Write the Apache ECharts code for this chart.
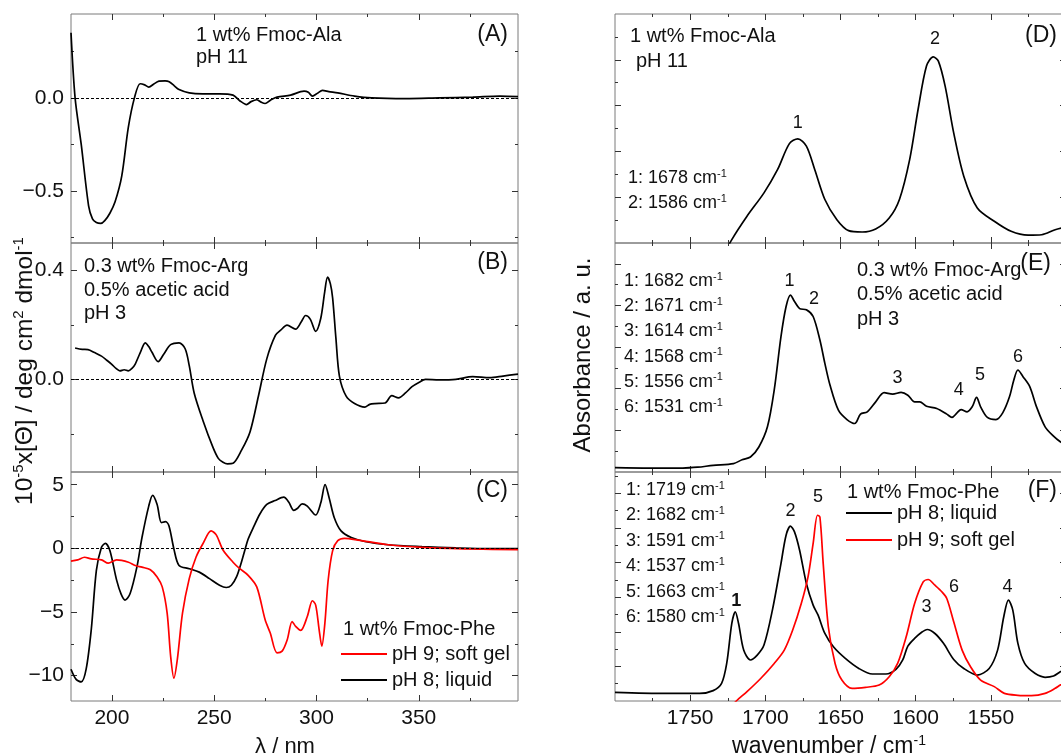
<!DOCTYPE html>
<html>
<head>
<meta charset="utf-8">
<script src="https://cdn.jsdelivr.net/npm/echarts@6/dist/echarts.min.js"></script>
<style>
  html, body { margin: 0; padding: 0; background: #fff; }
  #chart { width: 1061px; height: 756px; }
</style>
</head>
<body>
<div id="chart"></div>
<script>
// ---- data ----
// CD spectra (x: nm)
var alaCd = [[180,0.35],[182,0.0],[185,-0.25],[188.6,-0.58],[190.5,-0.65],[192.4,-0.67],[194.5,-0.675],[196.5,-0.66],[199,-0.62],[201.5,-0.56],[204.8,-0.42],[208,-0.16],[211,0],[213.8,0.076],[216,0.07],[218,0.058],[220.5,0.075],[223,0.09],[226,0.092],[228,0.087],[230.5,0.065],[232.8,0.045],[237.8,0.027],[244.4,0.022],[252.6,0.022],[259.2,0.015],[262.5,-0.015],[265.8,-0.036],[268,-0.02],[270.8,-0.01],[272.5,-0.02],[274.9,-0.03],[277.5,-0.012],[280.7,0.004],[287.3,0.015],[293.9,0.036],[296,0.03],[298,0.01],[300.5,0.025],[302.9,0.04],[306,0.034],[310.4,0.027],[318.6,0.01],[326.9,0],[343.4,-0.004],[360,0],[376.4,0.004],[389.6,0.01],[398.5,0.007]];
var argCd = [[182,0.115],[185.5,0.11],[188.3,0.109],[191.5,0.098],[194.9,0.085],[197.5,0.07],[199.8,0.056],[202,0.04],[203.9,0.031],[206,0.035],[208,0.031],[209.8,0.04],[211.4,0.056],[213.8,0.097],[216.3,0.134],[218,0.12],[219.6,0.099],[222.6,0.065],[225.4,0.093],[228.7,0.127],[232.8,0.134],[235.8,0.112],[237.8,0.05],[240.2,-0.05],[244.4,-0.149],[249.3,-0.248],[252,-0.29],[254.3,-0.304],[256.5,-0.31],[259.2,-0.308],[263.3,-0.261],[267.5,-0.193],[271.6,-0.062],[275.7,0.075],[279.9,0.161],[282.5,0.18],[285.6,0.199],[289.8,0.184],[292.5,0.21],[294.7,0.234],[297,0.22],[299.6,0.176],[302.1,0.224],[304,0.32],[305.4,0.375],[306.8,0.35],[307.9,0.298],[309.5,0.15],[311.2,0.012],[314.5,-0.062],[318.6,-0.089],[323.6,-0.102],[326,-0.092],[328.5,-0.089],[333.5,-0.087],[336.8,-0.06],[340.1,-0.068],[343.5,-0.05],[346.7,-0.027],[350,-0.012],[353.3,0],[359.9,-0.002],[368.1,0],[376.4,0.01],[384.6,0.006],[391.2,0.012],[398.5,0.019]];
var pheCdLiquid = [[180,-9.5],[182.5,-10.3],[185,-10.5],[187.4,-9.5],[189.9,-6.4],[192.4,-1.74],[194.9,0.08],[196.8,0.39],[199,-0.18],[202.3,-2.5],[204.5,-3.6],[206.4,-4.07],[208.9,-3.55],[212.2,-1.48],[214.7,0.85],[218,3.32],[219.9,4.17],[222.1,3.45],[224.2,2.02],[226.2,2.1],[227.9,1.76],[230.3,-0.05],[232.8,-1.35],[237.8,-1.6],[242.7,-1.87],[247.7,-2.38],[252.6,-2.9],[255.9,-3.08],[258.4,-2.9],[260.9,-2.25],[263.3,-1.09],[265,-0.13],[266.6,0.73],[269.1,1.63],[272.4,2.72],[275.7,3.45],[279.8,3.76],[284,4.02],[286.4,3.65],[288.9,2.98],[290.6,3.13],[293,3.5],[295.5,3.32],[299.6,2.62],[302.1,3.58],[304.2,5.0],[306.2,3.96],[308.7,2.41],[312,1.37],[317,0.85],[323.6,0.54],[335.1,0.28],[351.6,0.13],[368.1,0.03],[384.6,-0.03],[398.5,-0.03]];
var pheCdGel = [[180,-1.01],[183.3,-0.91],[186.6,-0.7],[189.9,-0.83],[194.9,-0.91],[198.2,-1.17],[202.3,-0.91],[208.1,-1.09],[211.4,-1.35],[214.7,-1.48],[218.8,-1.68],[222.1,-2.25],[224.6,-3.03],[227,-5.1],[228.7,-8.47],[230.3,-10.2],[232,-8.7],[234.5,-5.1],[237.8,-2.38],[241.1,-0.7],[244.4,0.34],[248.5,1.37],[251,1.06],[254.3,-0.13],[259.2,-1.09],[262.5,-1.6],[266.6,-2.12],[270.8,-3.03],[274.9,-5.62],[277.4,-6.66],[280.7,-8.21],[283.2,-8.08],[285.7,-7.18],[288.1,-5.75],[289.8,-6.14],[292.3,-6.45],[295.5,-5.36],[298,-4.12],[299.6,-4.46],[301.3,-6.4],[302.6,-7.69],[304.1,-5.88],[305.7,-2.51],[307.9,-0.18],[310.4,0.6],[313.7,0.78],[320.3,0.65],[335.1,0.28],[351.6,0.08],[376.4,-0.05],[398.5,-0.1]];

// IR spectra (x: wavenumber / cm-1, y: a.u.)
var alaIr = [[1730,-8],[1722.3,1.5],[1712.2,11.7],[1700.9,21.9],[1691.9,32],[1684,43.4],[1678.4,45.5],[1672.7,42.3],[1667.1,32],[1660.4,19],[1652.4,10.2],[1644.6,5.4],[1635.6,4.8],[1626.6,6.1],[1617.6,10.9],[1610.8,19],[1604,36.4],[1598.4,58.3],[1592.8,77.3],[1588.3,81.3],[1584.9,79.4],[1580.4,68.5],[1574.7,48.1],[1568,29.2],[1559,15.3],[1547.7,9.5],[1536.5,5.1],[1525.2,3.4],[1516.2,3.6],[1507.2,5.8],[1500,7]];
var argIr = [[1800,2.1],[1777.4,1.9],[1754.9,1.9],[1745,2.3],[1734.7,3.2],[1721.2,4.0],[1715.5,5.9],[1709.9,7.2],[1704.3,12],[1698.6,21.7],[1694.1,39.3],[1689.6,65],[1686.2,79.5],[1683.3,85],[1680.6,81.9],[1677.2,78.5],[1672.7,77.9],[1668.2,74.7],[1663.7,63.4],[1660.4,52.2],[1657,41.8],[1651.4,29.7],[1645.7,25.2],[1640.5,23.3],[1636.7,27.8],[1632.2,28.9],[1626.6,33.7],[1621,38.1],[1615.3,37.4],[1609.7,38.2],[1605.2,36.9],[1600.7,33.7],[1597.3,33.7],[1592.8,31.6],[1586,30.5],[1579.3,27.8],[1575.9,26.2],[1572.5,28.4],[1569.8,30],[1565.8,28.9],[1562.4,31.3],[1559.5,35.8],[1556.8,31.3],[1552.3,26.2],[1546.6,25.2],[1542.1,28.4],[1537.6,36.1],[1534.7,44.2],[1532,49],[1528.6,45.8],[1524.1,41],[1519.6,31.3],[1513.9,21.7],[1508.3,17.2],[1503.8,14.5],[1500,13]];
var pheIrLiquid = [[1800,5],[1766.2,4.4],[1743.7,4.4],[1734.7,6],[1729.1,10.2],[1725.7,21.7],[1722.3,44.8],[1720,51.5],[1717.8,44.8],[1714.4,29.4],[1709.9,23.7],[1705.4,26.5],[1700.9,32.3],[1695.3,52.5],[1689.6,79.4],[1686.2,95.8],[1683.3,101],[1680.6,97.7],[1677.2,87.1],[1672.7,67.9],[1668.2,55.4],[1664.9,49.6],[1660.4,39],[1654.7,31.3],[1646.8,24.6],[1637.8,18.8],[1628.8,15.6],[1619.8,15.6],[1613.1,18.3],[1608.6,23.7],[1605.2,31.7],[1600.7,36.2],[1596.2,39.6],[1592.3,41.3],[1587.2,39],[1581.5,33.3],[1574.7,24],[1568,18.8],[1559,15],[1551.1,18.8],[1545.5,29.4],[1541.4,48.7],[1538.3,58.3],[1535.4,52.5],[1532,33.3],[1527.5,21.7],[1520.7,16],[1513.9,13.7],[1508.3,14.4],[1503.8,16.9],[1500,18.5]];
var pheIrGel = [[1728,-8],[1719.3,0],[1712.2,5.4],[1703.1,13],[1694.1,21.7],[1687.4,29.4],[1681.8,41],[1676.1,56.3],[1671.6,71.7],[1668.2,91],[1665.3,107.3],[1663.7,106.3],[1661.5,79.4],[1658.1,42.9],[1653.6,21.7],[1649.1,12.1],[1642.3,7.3],[1633.3,7.9],[1624.3,9.2],[1617.6,14],[1612,21.7],[1606.3,37.1],[1600.7,56.3],[1595,68.8],[1591.7,70.2],[1587.2,66.9],[1582.6,63.1],[1579.3,59.2],[1574.7,45.8],[1569.1,29.4],[1563.5,19.8],[1556.8,12.1],[1547.7,8.3],[1541,4.4],[1532,3.3],[1523,3.1],[1513.9,4.4],[1507.2,7.3],[1503.8,9.2],[1500,11]];

// peak numbers, placed at data coordinates
var alaPeaks = [[1678.4,52.5,'1'],[1587.2,89.2,'2']];
var argPeaks = [[1684,91.5,'1'],[1667.6,83,'2'],[1612,45,'3'],[1571.4,39.3,'4'],[1557.2,46.6,'5'],[1532,55.4,'6']];
var phePeaks = [[1719.3,57.5,'1'],[1683.3,110,'2'],[1664.9,117.9,'5'],[1592.8,54,'3'],[1574.5,66,'6'],[1538.9,65.6,'4']];

// peak position lists
var alaPeakList = ['1: 1678', '2: 1586'];
var argPeakList = ['1: 1682', '2: 1671', '3: 1614', '4: 1568', '5: 1556', '6: 1531'];
var phePeakList = ['1: 1719', '2: 1682', '3: 1591', '4: 1537', '5: 1663', '6: 1580'];

// ticks
var nmLabels = [200, 250, 300, 350];
var nmMinor = [225, 275, 325, 375];
var wnLabels = [1750, 1700, 1650, 1600, 1550];
var wnMinor = [1775, 1725, 1675, 1625, 1575, 1525];
var aLabels = [-0.5, 0], aMinor = [-0.75, -0.25, 0.25];
var bLabels = [0.4, 0], bMinor = [0.2, -0.2];
var cLabels = [5, 0, -5, -10], cMinor = [2.5, -2.5, -7.5];
var dMajor = [20, 40, 60, 80], dMinor = [10, 30, 50, 70, 90];
var eMajor = [20, 40, 60, 80, 100], eMinor = [10, 30, 50, 70, 90];
var fMajor = [20, 40, 60, 80, 100, 120], fMinor = [10, 30, 50, 70, 90, 110, 130];

var FONT = 'Liberation Sans';
var INK = '#111';

var gridBoxes = [
  {left: 71, top: 14, width: 447, height: 229},
  {left: 71, top: 243, width: 447, height: 229},
  {left: 71, top: 472, width: 447, height: 229},
  {left: 615, top: 14, width: 451, height: 229},
  {left: 615, top: 243, width: 451, height: 229},
  {left: 615, top: 472, width: 451, height: 229}
];

function minus(s) { return String(s).replace('-', '\u2212'); }

function axis(grid, pos, range, ticks, len, labels, fmt) {
  return {
    type: 'value', gridIndex: grid, position: pos,
    min: range[0], max: range[1], inverse: !!range[2],
    axisLine: {show: false, onZero: false},
    splitLine: {show: false},
    axisTick: {show: true, inside: true, length: len, customValues: ticks, lineStyle: {color: '#333', width: 1}},
    axisLabel: labels ? {
      show: true, customValues: labels, formatter: fmt, fontSize: 21,
      color: INK, fontFamily: FONT, margin: 7
    } : {show: false}
  };
}

// every grid gets 4 x axes (bottom major/minor, top major/minor) and 4 y axes
var panels = [
  {x: [180, 398.5], xMaj: nmLabels, xMin: nmMinor, xLab: false, y: [-0.78, 0.451], yMaj: aLabels, yMin: aMinor, yLab: aLabels, yFmt: function (v) { return minus(v.toFixed(1)); }},
  {x: [180, 398.5], xMaj: nmLabels, xMin: nmMinor, xLab: false, y: [-0.34, 0.5], yMaj: bLabels, yMin: bMinor, yLab: bLabels, yFmt: function (v) { return minus(v.toFixed(1)); }},
  {x: [180, 398.5], xMaj: nmLabels, xMin: nmMinor, xLab: true, y: [-12, 6], yMaj: cLabels, yMin: cMinor, yLab: cLabels, yFmt: function (v) { return minus(v); }},
  {x: [1500, 1800, true], xMaj: wnLabels, xMin: wnMinor, xLab: false, y: [0, 100], yMaj: dMajor, yMin: dMinor, yLab: null},
  {x: [1500, 1800, true], xMaj: wnLabels, xMin: wnMinor, xLab: false, y: [0, 110], yMaj: eMajor, yMin: eMinor, yLab: null},
  {x: [1500, 1800, true], xMaj: wnLabels, xMin: wnMinor, xLab: true, y: [0, 132.3], yMaj: fMajor, yMin: fMinor, yLab: null}
];

var xAxes = [], yAxes = [];
panels.forEach(function (p, g) {
  xAxes.push(axis(g, 'bottom', p.x, p.xMaj, 6, p.xLab ? p.xMaj : null, function (v) { return String(v); }));
  xAxes.push(axis(g, 'bottom', p.x, p.xMin, 3));
  xAxes.push(axis(g, 'top', p.x, p.xMaj, 6));
  xAxes.push(axis(g, 'top', p.x, p.xMin, 3));
  yAxes.push(axis(g, 'left', p.y, p.yMaj, 6, p.yLab, p.yFmt));
  yAxes.push(axis(g, 'left', p.y, p.yMin, 3));
  yAxes.push(axis(g, 'right', p.y, p.yMaj, 6));
  yAxes.push(axis(g, 'right', p.y, p.yMin, 3));
});

var zeroLine = {
  silent: true, symbol: 'none', label: {show: false},
  lineStyle: {type: [3, 2], color: '#000', width: 1},
  data: [{yAxis: 0}]
};

function curve(g, name, data, color, withZero) {
  var s = {
    type: 'line', name: name, xAxisIndex: 4 * g, yAxisIndex: 4 * g,
    data: data, symbol: 'none', smooth: 0.3, clip: true,
    lineStyle: {color: color, width: 1.7}, itemStyle: {color: color}
  };
  if (withZero) s.markLine = zeroLine;
  return s;
}

var series = [
  curve(0, 'ala-cd', alaCd, '#000', true),
  curve(1, 'arg-cd', argCd, '#000', true),
  curve(2, 'pH 8; liquid', pheCdLiquid, '#000', true),
  curve(2, 'pH 9; soft gel', pheCdGel, '#ff0000', false),
  curve(3, 'ala-ir', alaIr, '#000', false),
  curve(4, 'arg-ir', argIr, '#000', false),
  curve(5, 'pH 8; liquid', pheIrLiquid, '#000', false),
  curve(5, 'pH 9; soft gel', pheIrGel, '#ff0000', false)
];

// text helpers
var richStyles = {
  n: {fontSize: 18, fontFamily: FONT, color: INK, lineHeight: 20},
  s: {fontSize: 11, fontFamily: FONT, color: INK, verticalAlign: 'top', lineHeight: 11},
  N: {fontSize: 23, fontFamily: FONT, color: INK, lineHeight: 26},
  S: {fontSize: 14, fontFamily: FONT, color: INK, verticalAlign: 'top', lineHeight: 14},
  T: {fontSize: 24.5, fontFamily: FONT, color: INK, lineHeight: 28},
  U: {fontSize: 15, fontFamily: FONT, color: INK, verticalAlign: 'top', lineHeight: 15}
};
function txt(x, y, str, size, align, rot, weight) {
  return {type: 'text', x: x, y: y, rotation: rot || 0, silent: true, style: {
    text: str, fontSize: size, fontFamily: FONT, fill: INK, fontWeight: weight || 'normal',
    align: align || 'left', verticalAlign: 'middle', textAlign: align || 'left', textVerticalAlign: 'middle'
  }};
}
function rich(x, y, str, align, rot) {
  return {type: 'text', x: x, y: y, rotation: rot || 0, silent: true, style: {
    text: str, rich: richStyles, fontFamily: FONT, fill: INK,
    align: align || 'left', verticalAlign: 'middle', textAlign: align || 'left', textVerticalAlign: 'middle'
  }};
}
function peakList(x, y0, step, list) {
  return list.map(function (t, i) { return rich(x, y0 + i * step, '{n|' + t + ' cm}{s|-1}'); });
}

var graphics = [
  // panel A
  txt(196, 35, '1 wt% Fmoc-Ala', 20), txt(196, 57, 'pH 11', 20), txt(508, 35, '(A)', 23, 'right'),
  // panel B
  txt(84, 266, '0.3 wt% Fmoc-Arg', 20), txt(84, 290, '0.5% acetic acid', 20), txt(84, 313, 'pH 3', 20),
  txt(508, 263, '(B)', 23, 'right'),
  // panel C
  txt(508, 491, '(C)', 23, 'right'), txt(343, 629, '1 wt% Fmoc-Phe', 20),
  // panel D
  txt(630, 36, '1 wt% Fmoc-Ala', 20), txt(636, 61, 'pH 11', 20), txt(1057, 36, '(D)', 23, 'right'),
  // panel E
  txt(857, 270, '0.3 wt% Fmoc-Arg', 20), txt(857, 294, '0.5% acetic acid', 20), txt(857, 319, 'pH 3', 20),
  txt(1051, 264, '(E)', 23, 'right'),
  // panel F
  txt(847, 492, '1 wt% Fmoc-Phe', 20), txt(1057, 491, '(F)', 23, 'right'),
  // axis titles
  txt(285, 747, '\u03bb / nm', 22, 'center'),
  rich(829, 747, '{N|wavenumber / cm}{S|-1}', 'center'),
  rich(25, 371, '{T|10}{U|-5}{T|x[\u0398] / deg cm}{U|2}{T| dmol}{U|-1}', 'center', Math.PI / 2),
  txt(583, 355, 'Absorbance / a. u.', 24, 'center', Math.PI / 2)
].concat(peakList(628, 178, 25, alaPeakList))
 .concat(peakList(624, 281, 25.2, argPeakList))
 .concat(peakList(626, 490, 25.4, phePeakList));

var legendText = {fontSize: 20, fontFamily: FONT, color: INK};

var chart = echarts.init(document.getElementById('chart'), null, {renderer: 'canvas'});
chart.setOption({
  backgroundColor: '#fff',
  animation: false,
  grid: gridBoxes.map(function (b) {
    return {left: b.left, top: b.top, width: b.width, height: b.height, show: true,
      borderColor: '#7a7a7a', borderWidth: 1, backgroundColor: 'transparent',
      containLabel: false, outerBoundsMode: 'none'};
  }),
  xAxis: xAxes,
  yAxis: yAxes,
  legend: [
    {data: ['pH 9; soft gel', 'pH 8; liquid'], orient: 'vertical', left: 341, top: 644, icon: 'rect',
      itemWidth: 46, itemHeight: 2, itemGap: 6, padding: 0, textStyle: legendText, selectedMode: false},
    {data: ['pH 8; liquid', 'pH 9; soft gel'], orient: 'vertical', left: 846, top: 503, icon: 'rect',
      itemWidth: 46, itemHeight: 2, itemGap: 7, padding: 0, textStyle: legendText, selectedMode: false}
  ],
  series: series
});

// peak numbers: data coordinates -> pixels through each panel's own axes
var peakSets = [[4, alaPeaks], [5, argPeaks], [6, phePeaks]];
var peakTexts = [];
peakSets.forEach(function (ps) {
  ps[1].forEach(function (d, i) {
    var pt = chart.convertToPixel({seriesIndex: ps[0]}, [d[0], d[1]]);
    var bold = (ps[0] === 6 && i === 0) ? 'bold' : 'normal';
    peakTexts.push(txt(pt[0], pt[1], d[2], 18, 'center', 0, bold));
  });
});
chart.setOption({graphic: graphics.concat(peakTexts)});
</script>
</body>
</html>
